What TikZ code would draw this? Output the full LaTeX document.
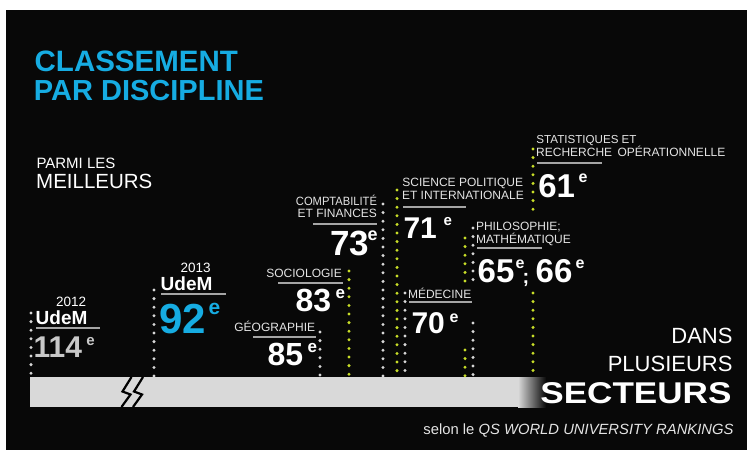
\documentclass[tikz,border=0pt]{standalone}
\usepackage{fontspec}
\setmainfont{Liberation Sans}
\definecolor{udemblue}{RGB}{22,172,226}
\definecolor{bg}{RGB}{8,8,8}
\definecolor{lbl}{RGB}{228,228,228}
\definecolor{numgray}{RGB}{200,200,200}
\definecolor{dotgray}{RGB}{215,215,215}
\definecolor{dotyel}{RGB}{200,222,40}
\definecolor{bargray}{RGB}{217,217,217}
\definecolor{rulegray}{RGB}{165,165,165}
\begin{document}
\begin{tikzpicture}[x=1pt,y=-1pt,
  txt/.style={inner sep=0pt, outer sep=0pt, anchor=base west, text=lbl},
  txte/.style={txt, anchor=base east},
  lbl/.style={txt, font=\fontsize{12}{12}\selectfont},
  lble/.style={txte, font=\fontsize{12}{12}\selectfont},
  num/.style={txt, text=white, font=\fontsize{#1}{#1}\selectfont\bfseries},
  uline/.style={draw=rulegray, line width=1.4pt},
  gdots/.style={draw=dotgray, line width=3.3pt, line cap=round, dash pattern=on 0pt off 8.6pt},
  ydots/.style={gdots, draw=dotyel},
  bolt/.style={draw=black, line width=2.2pt, line join=miter},
]
\fill[white] (0,0) rectangle (747,450);
\fill[bg] (6,10) rectangle (747,450);
\useasboundingbox (0,0) rectangle (747,450);

% bar
\fill[bargray] (30,377) rectangle (518.5,407);
\shade[left color=bargray, right color=bg] (518,377) rectangle (546,407);
\draw[bolt] (131.5,377) -- (122.5,391.5) -- (130.5,394.5) -- (121.5,407);
\draw[bolt] (143,377) -- (134,391.5) -- (142,394.5) -- (133,407);

% dotted columns
\draw[gdots] (31,313) -- (31,376);
\draw[gdots] (154,290) -- (154,376);
\draw[gdots] (320,332) -- (320,376);
\draw[ydots] (349,271) -- (349,376);
\draw[gdots] (383,204) -- (383,376);
\draw[ydots] (397,190) -- (397,376);
\draw[gdots] (405,293) -- (405,376);
\draw[ydots] (465,238) -- (465,283);
\draw[ydots] (465,350) -- (465,376);
\draw[gdots] (473,228) -- (473,283);
\draw[gdots] (473,323) -- (473,376);
\draw[ydots] (533,149) -- (533,211);
\draw[ydots] (533,293) -- (533,376);

% title
\node[txt, text=udemblue, font=\fontsize{29.5}{29.5}\selectfont\bfseries] (t1) at (34.7,71.7) {CLASSEMENT};
\node[txt, text=udemblue, font=\fontsize{29}{29}\selectfont\bfseries] (t2) at (34,100.3) {PAR DISCIPLINE};
\node[txt, text=white, font=\fontsize{15}{15}\selectfont] (p1) at (36.5,168) {PARMI LES};
\node[txt, text=white, font=\fontsize{20.5}{20.5}\selectfont] (p2) at (36.2,188.5) {MEILLEURS};

% 2012
\node[txt, text=white, font=\fontsize{13.5}{13.5}\selectfont] (y12) at (56,306) {2012};
\node[num=19] (u12) at (35.7,324.5) {UdeM};
\draw[uline] (36,328) -- (100,328);
\node[num=30, text=numgray] (n114) at (33.7,357) {114};
\node[num=15, text=numgray] (e114) at (86.4,345.5) {e};

% 2013
\node[txt, text=white, font=\fontsize{13.5}{13.5}\selectfont] (y13) at (180.5,272.5) {2013};
\node[num=19] (u13) at (160.7,290.5) {UdeM};
\draw[uline] (161,294) -- (226,294);
\node[num=42, text=udemblue] (n92) at (159.3,333) {92};
\node[num=21, text=udemblue] (e92) at (208.5,314) {e};

% comptabilite
\node[lble] (c1) at (377,205) {\scalebox{0.93}[1]{COMPTABILITÉ}};
\node[lble] (c2) at (377,217.5) {ET FINANCES};
\draw[uline] (313,224) -- (377,224);
\node[num=35] (n73) at (330.2,255) {73};
\node[num=18] (e73) at (367.5,240) {e};

% sociologie
\node[lbl] (s1) at (266.4,277.3) {SOCIOLOGIE};
\draw[uline] (278,283) -- (343,283);
\node[num=32] (n83) at (295.7,311) {83};
\node[num=17] (e83) at (335.5,298) {e};

% geographie
\node[lbl] (g1) at (234.4,331.7) {GÉOGRAPHIE};
\draw[uline] (253,337) -- (316,337);
\node[num=32] (n85) at (267.7,365) {85};
\node[num=17] (e85) at (307.5,352) {e};

% science politique
\node[lbl] (sp1) at (402.4,186) {SCIENCE POLITIQUE};
\node[lbl] (sp2) at (402,199.3) {ET INTERNATIONALE};
\draw[uline] (403,207) -- (466,207);
\node[num=30] (n71) at (403.5,238) {71};
\node[num=15] (e71) at (443.5,225) {e};

% philosophie
\node[lbl] (ph1) at (476,230.7) {PHILOSOPHIE;};
\node[lbl] (ph2) at (476,243.3) {MATHÉMATIQUE};
\draw[uline] (477,248) -- (542,248);
\node[num=33] (n65) at (477.7,282) {65};
\node[num=16] (e65) at (515.5,268) {e};
\node[num=20] (semi) at (522.5,283) {;};
\node[num=33] (n66) at (535.7,282) {66};
\node[num=16] (e66) at (575.5,268) {e};

% medecine
\node[lbl] (m1) at (408,298.3) {MÉDECINE};
\draw[uline] (409,302) -- (472,302);
\node[num=30] (n70) at (411.5,333) {70};
\node[num=16] (e70) at (449.5,322) {e};

% statistiques
\node[lbl, font=\fontsize{11.6}{11.6}\selectfont] (st1) at (536.4,143.3) {STATISTIQUES ET};
\node[lbl] (st2) at (536.2,156) {RECHERCHE\hspace{2pt} OPÉRATIONNELLE};
\draw[uline] (537,163) -- (602,163);
\node[num=33] (n61) at (538.3,197) {61};
\node[num=16] (e61) at (578.5,182) {e};

% right block
\node[txte, text=white, font=\fontsize{22}{22}\selectfont] (d1) at (732.5,343.3) {DANS};
\node[txte, text=white, font=\fontsize{22}{22}\selectfont] (d2) at (732.5,371.7) {PLUSIEURS};
\node[txte, text=white, font=\fontsize{30}{30}\selectfont\bfseries] (d3) at (731.5,403.3) {\scalebox{1.17}[1]{SECTEURS}};

% footer
\node[txte, text=lbl, font=\fontsize{14.8}{14.8}\selectfont] (src) at (733.5,434.3) {selon le \textit{QS WORLD UNIVERSITY RANKINGS}};
\end{tikzpicture}
\end{document}
